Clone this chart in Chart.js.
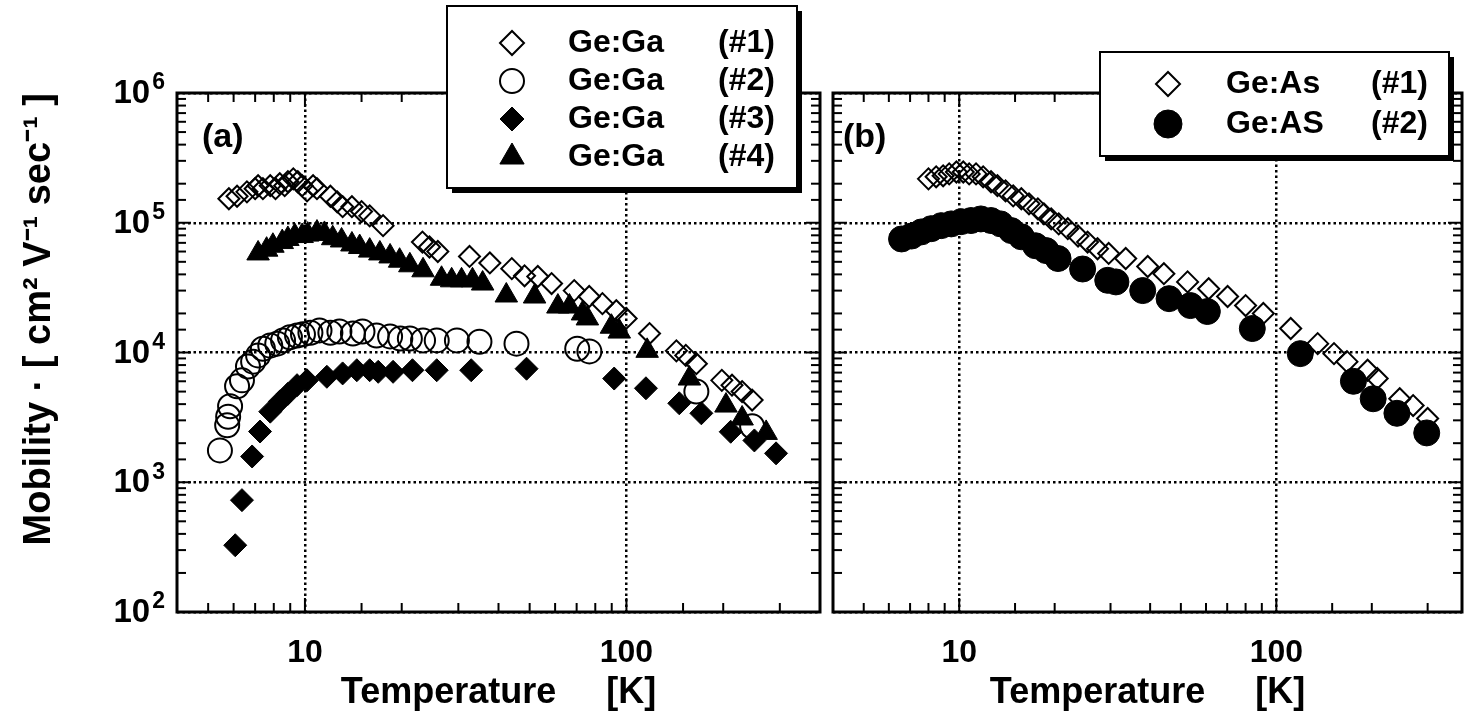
<!DOCTYPE html>
<html><head><meta charset="utf-8">
<script src="https://cdn.jsdelivr.net/npm/chart.js@4.4.1/dist/chart.umd.min.js"></script>
<style>
html,body{margin:0;padding:0;background:#fff;width:1464px;height:719px;overflow:hidden}
#ca{position:absolute;left:0;top:0}
#cb{position:absolute;left:826px;top:0}
</style></head><body>
<canvas id="ca" width="826" height="719"></canvas>
<canvas id="cb" width="638" height="719"></canvas>
<script>
// ---------------- data ----------------
const xTickValues = [10, 100];
const xTickLabels = ['10', '100'];
const yTickValues = [1e2, 1e3, 1e4, 1e5, 1e6];
const yTickBases = ['10', '10', '10', '10', '10'];
const yTickExponents = ['2', '3', '4', '5', '6'];
const xTitle = 'Temperature     [K]';
const yTitle = 'Mobility · [ cm² V⁻¹ sec⁻¹ ]';

// Panel (a): Ge:Ga
const gaMaterials = ['Ge:Ga', 'Ge:Ga', 'Ge:Ga', 'Ge:Ga'];
const gaSamples = ['(#1)', '(#2)', '(#3)', '(#4)'];

const ga1T  = [5.8,6.15,6.6,7.0,7.15,7.4,7.8,8.1,8.35,8.65,8.85,9.2,9.5,9.8,10.15,10.6,10.9,12.0,12.6,13.1,14.0,15.0,15.9,17.5,23.2,24.4,25.9,32.5,37.6,44,48.2,53,58.5,68.8,76.6,84.2,93,99.8,118,143,153,165,198,213,229,246];
const ga1Mu = [1.53e5,1.6e5,1.73e5,1.83e5,1.93e5,1.83e5,1.93e5,1.83e5,2.0e5,1.93e5,2.07e5,2.18e5,2.07e5,1.93e5,1.76e5,1.93e5,1.83e5,1.6e5,1.45e5,1.33e5,1.33e5,1.22e5,1.13e5,9.5e4,7.1e4,6.5e4,6.0e4,5.5e4,4.9e4,4.43e4,3.9e4,3.85e4,3.4e4,3.0e4,2.7e4,2.38e4,2.1e4,1.83e4,1.4e4,1.03e4,9.5e3,8.2e3,6.1e3,5.6e3,5.0e3,4.3e3];

const ga2T  = [5.44,5.73,5.77,5.85,6.15,6.37,6.65,6.9,7.15,7.4,7.8,8.2,8.55,8.98,9.45,9.86,10.4,11.1,12.0,12.8,14.1,15.1,16.7,18.4,19.8,21.2,23.3,25.7,29.7,34.9,45.5,70.3,76.7,165,246];
const ga2Mu = [1.76e3,2.75e3,3.2e3,3.85e3,5.5e3,6.1e3,7.8e3,8.5e3,9.5e3,1.07e4,1.13e4,1.17e4,1.24e4,1.31e4,1.35e4,1.38e4,1.42e4,1.48e4,1.42e4,1.45e4,1.4e4,1.45e4,1.35e4,1.33e4,1.28e4,1.28e4,1.24e4,1.24e4,1.24e4,1.21e4,1.17e4,1.07e4,1.02e4,5.0e3,2.7e3];

const ga3T  = [6.07,6.37,6.85,7.25,7.8,8.36,8.85,9.45,10.15,11.7,13.1,14.5,15.9,16.9,18.8,21.6,25.7,32.9,48.9,91.6,115,146,171,211,250,292];
const ga3Mu = [327,728,1.58e3,2.46e3,3.5e3,4.2e3,4.8e3,5.6e3,6.1e3,6.5e3,6.9e3,7.3e3,7.3e3,7.1e3,7.1e3,7.3e3,7.3e3,7.3e3,7.5e3,6.3e3,5.3e3,4.06e3,3.4e3,2.45e3,2.1e3,1.67e3];

const ga4T  = [7.15,7.6,7.95,8.5,8.85,9.3,9.8,10.2,10.9,11.5,12.2,13.0,14.0,14.8,15.9,17.1,18.4,19.7,21.2,23.3,26.6,28.6,30.7,33.2,35.7,42.3,51.8,61.2,66.5,73,75.6,89.8,95,116,157,204,229,272];
const ga4Mu = [5.8e4,6.2e4,6.65e4,7.1e4,7.5e4,7.9e4,7.9e4,8.1e4,8.4e4,8.2e4,7.6e4,7.3e4,6.8e4,6.5e4,6.1e4,5.8e4,5.5e4,5.1e4,4.7e4,4.3e4,3.7e4,3.6e4,3.6e4,3.6e4,3.4e4,2.75e4,2.7e4,2.26e4,2.26e4,2.0e4,1.83e4,1.58e4,1.45e4,1.03e4,6.3e3,3.9e3,3.1e3,2.4e3];

// Panel (b): Ge:As
const asMaterials = ['Ge:As', 'Ge:AS'];
const asSamples = ['(#1)', '(#2)'];

const as1T  = [8.0,8.46,8.9,9.3,9.8,10.3,10.75,11.3,11.9,12.6,13.2,14.0,14.8,15.7,16.6,17.7,18.5,19.5,20.6,22.0,23.7,25.4,27.3,29.6,33.5,39.3,44.2,52.5,61.2,70.2,80,91,111,135,152,167,194,208,245,270,300];
const as1Mu = [2.18e5,2.26e5,2.3e5,2.38e5,2.46e5,2.46e5,2.38e5,2.38e5,2.26e5,2.07e5,1.93e5,1.76e5,1.61e5,1.53e5,1.4e5,1.28e5,1.17e5,1.07e5,9.8e4,9.0e4,7.9e4,7.1e4,6.3e4,5.8e4,5.3e4,4.6e4,4.05e4,3.5e4,3.1e4,2.7e4,2.3e4,2.0e4,1.53e4,1.17e4,9.8e3,8.5e3,7.3e3,6.3e3,4.4e3,3.9e3,3.1e3];

const as2T  = [6.58,7.07,7.6,8.16,8.78,9.44,10.15,10.9,11.7,12.6,13.5,14.6,15.7,17.4,18.8,20.5,24.5,29.4,31.2,37.9,45.9,53.6,60.6,84,119,175,202,240,298];
const as2Mu = [7.5e4,7.9e4,8.5e4,9.0e4,9.5e4,9.8e4,1.02e5,1.04e5,1.07e5,1.04e5,9.8e4,8.7e4,7.8e4,6.65e4,6.1e4,5.3e4,4.4e4,3.6e4,3.5e4,3.0e4,2.6e4,2.3e4,2.07e4,1.53e4,9.8e3,6.0e3,4.4e3,3.4e3,2.4e3];

// ---------------- helpers ----------------
const FONT = '"Liberation Sans", Arial, Helvetica, sans-serif';
const pts = (xs, ys) => xs.map((x, i) => ({x, y: ys[i]}));
function isDecade(v) { const l = Math.log10(v); return Math.abs(l - Math.round(l)) < 1e-6; }
function labelFor(v, vals, labs) {
  for (let i = 0; i < vals.length; i++) if (Math.abs(v / vals[i] - 1) < 1e-6) return labs[i];
  return '';
}
const gridColor = c => (c.tick && isDecade(c.tick.value)) ? '#000' : 'rgba(0,0,0,0)';

// frame + inward tick marks on all four sides
const framePlugin = {
  id: 'frameTicks',
  afterDatasetsDraw(chart) {
    const {ctx, chartArea: a, scales: {x, y}} = chart;
    ctx.save();
    ctx.strokeStyle = '#000';
    ctx.lineCap = 'butt';
    ctx.lineWidth = 2;
    const seg = (x1, y1, x2, y2) => { ctx.beginPath(); ctx.moveTo(x1, y1); ctx.lineTo(x2, y2); ctx.stroke(); };
    x.ticks.forEach(t => {
      const px = x.getPixelForValue(t.value);
      if (px < a.left + 1 || px > a.right - 1) return;
      const L = isDecade(t.value) ? 14 : 9;
      seg(px, a.bottom, px, a.bottom - L);
      seg(px, a.top, px, a.top + L);
    });
    y.ticks.forEach(t => {
      const py = y.getPixelForValue(t.value);
      if (py < a.top + 1 || py > a.bottom - 1) return;
      const L = isDecade(t.value) ? 14 : 9;
      seg(a.left, py, a.left + L, py);
      seg(a.right, py, a.right - L, py);
    });
    ctx.lineWidth = 3;
    ctx.strokeRect(a.left, a.top, a.right - a.left, a.bottom - a.top);
    ctx.restore();
  }
};

// y tick labels "10" with a raised exponent, placed with the y scale
const powLabelPlugin = {
  id: 'powLabels',
  afterDatasetsDraw(chart, args, o) {
    if (!o.show) return;
    const {ctx, chartArea: a, scales: {y}} = chart;
    ctx.save();
    ctx.fillStyle = '#000';
    ctx.textBaseline = 'middle';
    ctx.textAlign = 'right';
    yTickValues.forEach((v, i) => {
      const py = y.getPixelForValue(v);
      const right = a.left - o.pad;
      ctx.font = 'bold ' + o.expSize + 'px ' + FONT;
      const ew = ctx.measureText(yTickExponents[i]).width;
      ctx.fillText(yTickExponents[i], right, py - o.raise);
      ctx.font = 'bold ' + o.baseSize + 'px ' + FONT;
      ctx.fillText(yTickBases[i], right - ew - 2, py + 1);
    });
    ctx.restore();
  }
};

// panel letter "(a)" / "(b)"
const panelLabelPlugin = {
  id: 'panelLabel',
  afterDatasetsDraw(chart, args, o) {
    const {ctx, chartArea: a} = chart;
    ctx.save();
    ctx.fillStyle = '#000';
    ctx.font = 'bold 34px ' + FONT;
    ctx.textBaseline = 'middle';
    ctx.textAlign = 'left';
    ctx.fillText(o.text, a.left + o.dx, a.top + o.dy);
    ctx.restore();
  }
};

// boxed legend with drop shadow
const boxLegendPlugin = {
  id: 'boxLegend',
  afterDraw(chart, args, o) {
    const ctx = chart.ctx;
    ctx.save();
    ctx.fillStyle = '#000';
    ctx.fillRect(o.x + o.shadow, o.y + o.shadow, o.w, o.h);
    ctx.fillStyle = '#fff';
    ctx.fillRect(o.x, o.y, o.w, o.h);
    ctx.lineWidth = 2;
    ctx.strokeStyle = '#000';
    ctx.strokeRect(o.x, o.y, o.w, o.h);
    chart.data.datasets.forEach((ds, i) => {
      const cy = o.y + o.firstRow + i * o.rowGap;
      ctx.save();
      ctx.fillStyle = ds.backgroundColor === 'rgba(0,0,0,0)' ? '#fff' : ds.backgroundColor;
      ctx.strokeStyle = ds.borderColor;
      ctx.lineWidth = ds.borderWidth;
      Chart.helpers.drawPoint(ctx, {pointStyle: ds.pointStyle, radius: o.symRadius[i], rotation: 0, borderWidth: ds.borderWidth}, o.symX, cy);
      ctx.restore();
      ctx.fillStyle = '#000';
      ctx.font = 'bold 32px ' + FONT;
      ctx.textBaseline = 'middle';
      ctx.textAlign = 'left';
      ctx.fillText(ds.material, o.textX, cy);
      ctx.textAlign = 'right';
      ctx.fillText(ds.sample, o.idRight, cy);
    });
    ctx.restore();
  }
};

function makeOptions(cfg) {
  const tickFont = {family: FONT, size: 32, weight: 'bold'};
  return {
    responsive: false,
    animation: false,
    devicePixelRatio: 1,
    layout: {padding: cfg.padding, autoPadding: false},
    plugins: {
      legend: {display: false},
      tooltip: {enabled: false},
      boxLegend: cfg.legend,
      panelLabel: cfg.panel,
      powLabels: {show: cfg.showY, pad: 12, baseSize: 33, expSize: 23, raise: 10}
    },
    scales: {
      x: {
        type: 'logarithmic', position: 'bottom', min: 4, max: cfg.xMax,
        grid: {color: gridColor, lineWidth: 2.5, drawTicks: true, tickLength: 20, tickColor: 'rgba(0,0,0,0)', borderDash: [2.5, 3]},
        border: {display: false, dash: [2.5, 3]},
        ticks: {autoSkip: false, maxRotation: 0, minRotation: 0, padding: 2, color: '#000', font: tickFont,
                callback: v => labelFor(v, xTickValues, xTickLabels)},
        title: {display: true, text: xTitle, color: '#000', font: {family: FONT, size: 36, weight: 'bold'}, padding: {top: 0, bottom: 4}},
        afterFit: s => { s.height = 107; s.paddingLeft = 0; s.paddingRight = 0; }
      },
      y: {
        type: 'logarithmic', position: 'left', min: 100, max: 1e6,
        grid: {color: gridColor, lineWidth: 2.5, drawTicks: false, borderDash: [2.5, 3]},
        border: {display: false, dash: [2.5, 3]},
        ticks: {display: false, autoSkip: false},
        title: {display: cfg.showY, text: yTitle, align: 'end', color: '#000', font: {family: FONT, size: 38, weight: 'bold'}, padding: {top: 17, bottom: 0}},
        afterFit: s => { s.width = cfg.yWidth; s.paddingTop = 0; s.paddingBottom = 0; }
      }
    }
  };
}

const clear = 'rgba(0,0,0,0)';
const dsBase = {showLine: false, borderColor: '#000', pointHoverRadius: 0};

new Chart(document.getElementById('ca'), {
  type: 'scatter',
  data: {datasets: [
    {...dsBase, label: gaMaterials[0] + ' ' + gaSamples[0], material: gaMaterials[0], sample: gaSamples[0], data: pts(ga1T, ga1Mu), pointStyle: 'rectRot', pointRadius: 10.5, backgroundColor: clear, borderWidth: 2},
    {...dsBase, label: gaMaterials[1] + ' ' + gaSamples[1], material: gaMaterials[1], sample: gaSamples[1], data: pts(ga2T, ga2Mu), pointStyle: 'circle', pointRadius: 12, backgroundColor: clear, borderWidth: 2},
    {...dsBase, label: gaMaterials[2] + ' ' + gaSamples[2], material: gaMaterials[2], sample: gaSamples[2], data: pts(ga3T, ga3Mu), pointStyle: 'rectRot', pointRadius: 11.5, backgroundColor: '#000', borderWidth: 1},
    {...dsBase, label: gaMaterials[3] + ' ' + gaSamples[3], material: gaMaterials[3], sample: gaSamples[3], data: pts(ga4T, ga4Mu), pointStyle: 'triangle', pointRadius: 13, backgroundColor: '#000', borderWidth: 1}
  ]},
  options: makeOptions({
    padding: {left: 0, right: 6, top: 93, bottom: 0},
    xMax: 400, showY: true, yWidth: 177,
    panel: {text: '(a)', dx: 25, dy: 45},
    legend: {x: 447, y: 6, w: 350, h: 182, shadow: 5, firstRow: 37, rowGap: 38, symX: 512, textX: 568, idRight: 775, symRadius: [12, 12, 12, 14]}
  }),
  plugins: [framePlugin, powLabelPlugin, panelLabelPlugin, boxLegendPlugin]
});

new Chart(document.getElementById('cb'), {
  type: 'scatter',
  data: {datasets: [
    {...dsBase, label: asMaterials[0] + ' ' + asSamples[0], material: asMaterials[0], sample: asSamples[0], data: pts(as1T, as1Mu), pointStyle: 'rectRot', pointRadius: 10.5, backgroundColor: clear, borderWidth: 2},
    {...dsBase, label: asMaterials[1] + ' ' + asSamples[1], material: asMaterials[1], sample: asSamples[1], data: pts(as2T, as2Mu), pointStyle: 'circle', pointRadius: 13, backgroundColor: '#000', borderWidth: 1}
  ]},
  options: makeOptions({
    padding: {left: 7, right: 2, top: 93, bottom: 0},
    xMax: 385, showY: false, yWidth: 0,
    panel: {text: '(b)', dx: 10, dy: 45},
    legend: {x: 274, y: 52, w: 349, h: 104, shadow: 5, firstRow: 32, rowGap: 40, symX: 342, textX: 400, idRight: 602, symRadius: [12, 14]}
  }),
  plugins: [framePlugin, powLabelPlugin, panelLabelPlugin, boxLegendPlugin]
});
</script>
</body></html>
